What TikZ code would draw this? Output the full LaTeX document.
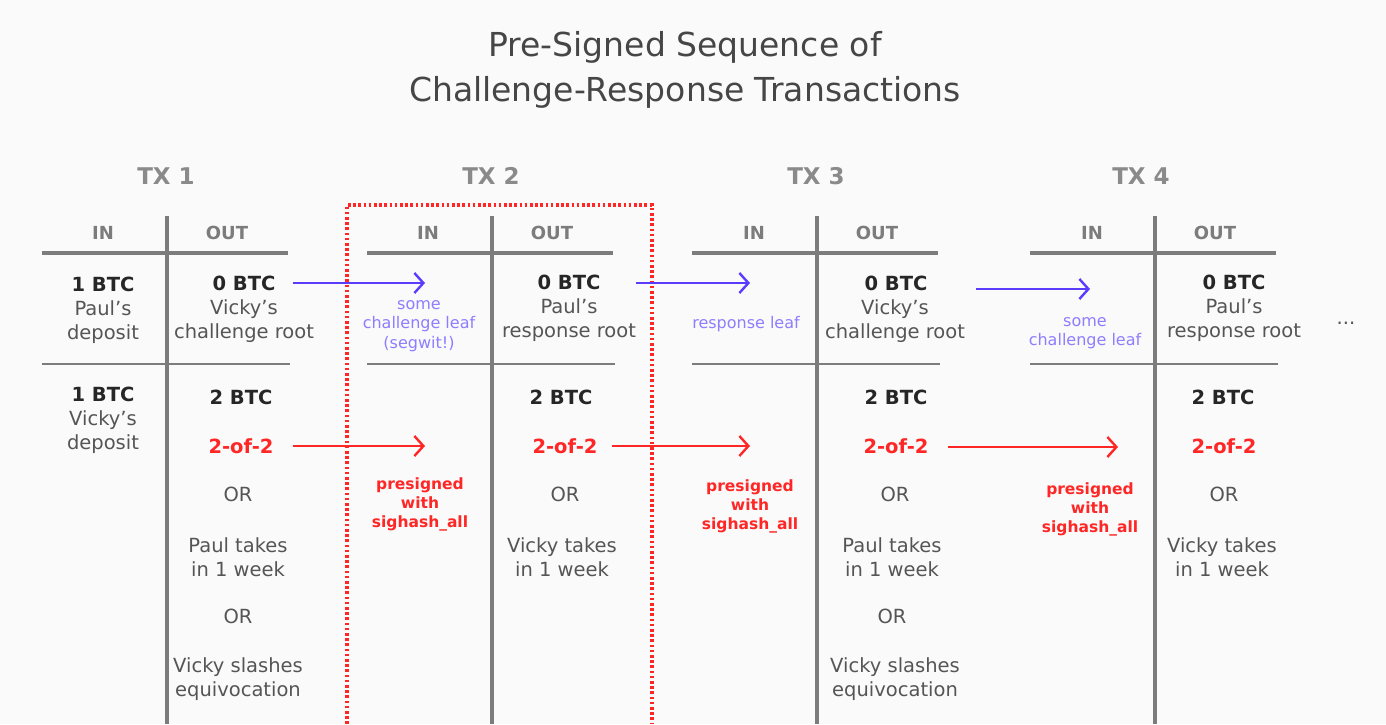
\documentclass[tikz,border=0pt]{standalone}
\usepackage{fontspec}
\setmainfont{DejaVu Sans}
\usetikzlibrary{arrows.meta,positioning}

\definecolor{bgpaper}{HTML}{FAFAFA}
\definecolor{titleink}{HTML}{464646}
\definecolor{amountink}{HTML}{262626}
\definecolor{descink}{HTML}{555555}
\definecolor{headink}{HTML}{8A8A8A}
\definecolor{ruleink}{HTML}{7C7C7C}
\definecolor{chalblue}{HTML}{5A3CFF}
\definecolor{leafink}{HTML}{8E7DFF}
\definecolor{sigred}{HTML}{FF2626}

\begin{document}
\begin{tikzpicture}[
    x=1pt, y=-1pt,
    every node/.style={inner sep=1pt, align=center},
    title/.style={font=\fontsize{33}{45}\selectfont, text=titleink},
    txhead/.style={font=\fontsize{23}{26}\selectfont\bfseries, text=headink},
    colhead/.style={font=\fontsize{18}{20}\selectfont\bfseries, text=headink!90!black},
    amount/.style={font=\fontsize{19.5}{24.5}\selectfont\bfseries, text=amountink},
    desc/.style={font=\fontsize{19.5}{24.5}\selectfont, text=descink},
    multisig/.style={font=\fontsize{19.5}{24.5}\selectfont\bfseries, text=sigred},
    leaf/.style={font=\fontsize{16}{19.5}\selectfont, text=leafink},
    presig/.style={font=\fontsize{15.5}{19}\selectfont\bfseries, text=sigred},
    toprule/.style={draw=ruleink, line width=4pt},
    midrule/.style={draw=ruleink, line width=2.2pt},
    splitrule/.style={draw=ruleink, line width=3.5pt},
    challenge/.style={draw=chalblue, line width=2.4pt, -{Straight Barb[length=9pt,width=20pt]}},
    sigarrow/.style={draw=sigred, line width=2.4pt, -{Straight Barb[length=9pt,width=20pt]}}
]
    \fill[bgpaper] (0,0) rectangle (1386,724);
    \useasboundingbox (0,0) rectangle (1386,724);

    % title
    \node[title] (title) at (685,70) {Pre-Signed Sequence of\\Challenge-Response Transactions};

    % transaction tables
    \foreach \vx in {167,492,817,1155} {
        \draw[toprule] (\vx-125,253) -- (\vx+121,253);
        \draw[midrule] (\vx-125,364) -- (\vx+123,364);
        \draw[splitrule] (\vx,216) -- (\vx,724);
    }

    % presigned window
    \draw[sigred, line width=3.2pt, dash pattern=on 2.6pt off 2.6pt] (347,724) |- (652,205) -- (652,724);

    \node[txhead] (tx1) at (166,176) {TX 1};
    \node[txhead] (tx2) at (491,176) {TX 2};
    \node[txhead] (tx3) at (816,176) {TX 3};
    \node[txhead] (tx4) at (1141,176) {TX 4};

    \node[colhead] (tx1-in) at (103,233) {IN};
    \node[colhead] (tx1-out) at (227,233) {OUT};
    \node[colhead] (tx2-in) at (428,233) {IN};
    \node[colhead] (tx2-out) at (552,233) {OUT};
    \node[colhead] (tx3-in) at (754,233) {IN};
    \node[colhead] (tx3-out) at (877,233) {OUT};
    \node[colhead] (tx4-in) at (1092,233) {IN};
    \node[colhead] (tx4-out) at (1215,233) {OUT};

    % TX 1
    \node[amount] (tx1-in-a) at (103,284) {1 BTC};
    \node[desc] (tx1-in-a-desc) at (103,322) {Paul’s\\deposit};
    \node[amount] (tx1-in-b) at (103,394) {1 BTC};
    \node[desc] (tx1-in-b-desc) at (103,432) {Vicky’s\\deposit};
    \node[amount] (tx1-out-a) at (244,283) {0 BTC};
    \node[desc] (tx1-out-a-desc) at (244,321) {Vicky’s\\challenge root};
    \node[amount] (tx1-out-b) at (241,397) {2 BTC};
    \node[multisig] (tx1-sig) at (241,446) {2-of-2};
    \node[desc] (tx1-or1) at (238,494) {OR};
    \node[desc] (tx1-take) at (238,557) {Paul takes\\in 1 week};
    \node[desc] (tx1-or2) at (238,616) {OR};
    \node[desc] (tx1-slash) at (238,679) {Vicky slashes\\equivocation};

    % TX 2
    \coordinate (tx2-chal) at (425,283);
    \coordinate (tx2-pre) at (425,446);
    \node[leaf] (tx2-leaf) at (419,326) {some\\challenge leaf\\(segwit!)};
    \node[presig] (tx2-presig) at (420,504) {presigned\\with\\sighash\_all};
    \node[amount] (tx2-out-a) at (569,282) {0 BTC};
    \node[desc] (tx2-out-a-desc) at (569,320) {Paul’s\\response root};
    \node[amount] (tx2-out-b) at (561,397) {2 BTC};
    \node[multisig] (tx2-sig) at (565,446) {2-of-2};
    \node[desc] (tx2-or1) at (565,494) {OR};
    \node[desc] (tx2-take) at (562,557) {Vicky takes\\in 1 week};

    % TX 3
    \coordinate (tx3-chal) at (750,283);
    \coordinate (tx3-pre) at (750,446);
    \node[leaf] (tx3-leaf) at (746,324) {response leaf};
    \node[presig] (tx3-presig) at (750,506) {presigned\\with\\sighash\_all};
    \node[amount] (tx3-out-a) at (896,283) {0 BTC};
    \node[desc] (tx3-out-a-desc) at (895,321) {Vicky’s\\challenge root};
    \node[amount] (tx3-out-b) at (896,397) {2 BTC};
    \node[multisig] (tx3-sig) at (896,446) {2-of-2};
    \node[desc] (tx3-or1) at (895,494) {OR};
    \node[desc] (tx3-take) at (892,557) {Paul takes\\in 1 week};
    \node[desc] (tx3-or2) at (892,616) {OR};
    \node[desc] (tx3-slash) at (895,679) {Vicky slashes\\equivocation};

    % TX 4
    \coordinate (tx4-chal) at (1090,289);
    \coordinate (tx4-pre) at (1118,447);
    \node[leaf] (tx4-leaf) at (1085,333) {some\\challenge leaf};
    \node[presig] (tx4-presig) at (1090,509) {presigned\\with\\sighash\_all};
    \node[amount] (tx4-out-a) at (1234,282) {0 BTC};
    \node[desc] (tx4-out-a-desc) at (1234,320) {Paul’s\\response root};
    \node[amount] (tx4-out-b) at (1223,397) {2 BTC};
    \node[multisig] (tx4-sig) at (1224,446) {2-of-2};
    \node[desc] (tx4-or1) at (1224,494) {OR};
    \node[desc] (tx4-take) at (1222,557) {Vicky takes\\in 1 week};
    \node[desc] (more) at (1346,323) {...};

    % challenge / response chain
    \draw[challenge, shorten <=16pt] (tx1-out-a.east |- tx2-chal) -- (tx2-chal);
    \draw[challenge, shorten <=34pt] (tx2-out-a.east |- tx3-chal) -- (tx3-chal);
    \draw[challenge, shorten <=47pt] (tx3-out-a.east |- tx4-chal) -- (tx4-chal);

    % presigned 2-of-2 chain
    \draw[sigarrow, shorten <=18pt] (tx1-sig.east |- tx2-pre) -- (tx2-pre);
    \draw[sigarrow, shorten <=13pt] (tx2-sig.east |- tx3-pre) -- (tx3-pre);
    \draw[sigarrow, shorten <=18pt] (tx3-sig.east |- tx4-pre) -- (tx4-pre);
\end{tikzpicture}
\end{document}
